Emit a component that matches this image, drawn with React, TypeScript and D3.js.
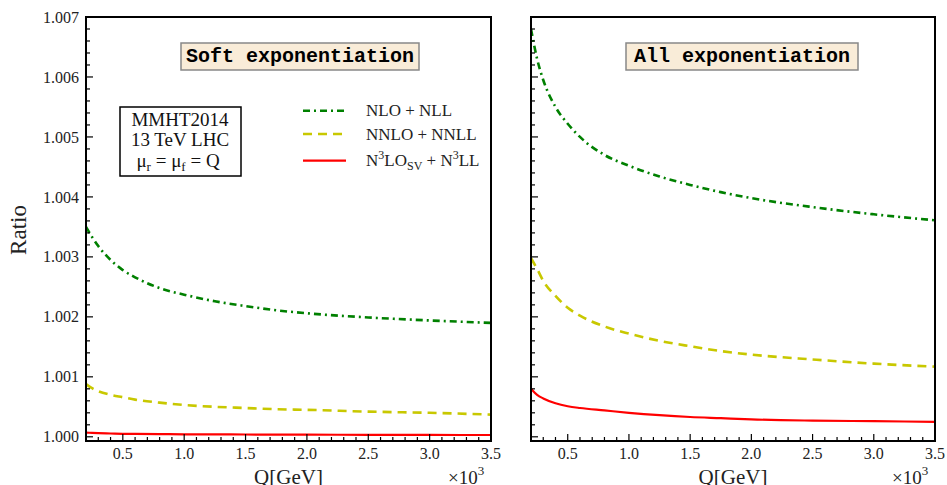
import React from "react";
import * as d3 from "d3";

const Q = [200, 250, 300, 400, 500, 600, 800, 1000, 1250, 1500, 1750, 2000, 2500, 3000, 3500];

const softNLO = [1.0035, 1.00333, 1.00318, 1.00295, 1.00278, 1.00266, 1.00248, 1.00237, 1.00226, 1.00218, 1.00211, 1.00206, 1.00199, 1.00194, 1.0019];
const softNNLO = [1.00088, 1.00081, 1.00076, 1.0007, 1.00066, 1.00062, 1.00057, 1.00053, 1.0005, 1.00048, 1.00046, 1.00045, 1.00042, 1.0004, 1.00037];
const softN3LO = [1.00007, 1.000065, 1.00006, 1.000055, 1.00005, 1.000048, 1.000045, 1.000042, 1.00004, 1.000038, 1.000036, 1.000035, 1.000033, 1.000031, 1.00003];

const allNLO = [1.0068, 1.0063, 1.00595, 1.0055, 1.00522, 1.005, 1.0047, 1.00452, 1.00434, 1.0042, 1.00408, 1.00398, 1.00383, 1.00371, 1.00361];
const allNNLO = [1.00298, 1.0028, 1.0026, 1.00235, 1.00215, 1.00202, 1.00184, 1.00172, 1.0016, 1.00151, 1.00143, 1.00137, 1.00129, 1.00122, 1.00117];
const allN3LO = [1.0008, 1.0007, 1.00064, 1.00056, 1.00051, 1.00048, 1.00044, 1.0004, 1.00036, 1.00033, 1.00031, 1.00029, 1.00027, 1.00026, 1.00025];

const yTickLabels = ["1.000", "1.001", "1.002", "1.003", "1.004", "1.005", "1.006", "1.007"];
const xTickLabels = ["0.5", "1.0", "1.5", "2.0", "2.5", "3.0", "3.5"];

const panelTitles = ["Soft exponentiation", "All exponentiation"];

const GREEN = "#008000";
const YELLOW = "#c8c800";
const RED = "#ff0000";
const SERIF = "'Liberation Serif', 'Times New Roman', serif";
const MONO = "'Liberation Mono', 'Courier New', monospace";

const seriesStyles = [
  { color: GREEN, dash: "7,4,2,4", width: 2.6 },
  { color: YELLOW, dash: "9,6", width: 2.6 },
  { color: RED, dash: "", width: 2.2 },
];

const TOP = 17;
const BOTTOM = 441;

function Panel({ x0, x1, title, titleBox, series, showYLabels }: any) {
  const xs = d3.scaleLinear().domain([200, 3500]).range([x0, x1]);
  const ys = d3.scaleLinear().domain([0.99993, 1.007]).range([BOTTOM, TOP]);
  const line = d3
    .line<number>()
    .x((_, i) => xs(Q[i]))
    .y((d) => ys(d))
    .curve(d3.curveMonotoneX);

  const yMinor = d3.range(0, 36).map((i) => 1.0 + i * 0.0002).filter((v) => v <= 1.00701);
  const xMinor = d3.range(2, 36).map((i) => i * 100);

  return (
    <g>
      <defs>
        <clipPath id={`clip${x0}`}>
          <rect x={x0} y={TOP} width={x1 - x0} height={BOTTOM - TOP} />
        </clipPath>
      </defs>
      <g clipPath={`url(#clip${x0})`}>
        {series.map((s: number[], i: number) => (
          <path
            key={i}
            d={line(s) as string}
            fill="none"
            stroke={seriesStyles[i].color}
            strokeWidth={seriesStyles[i].width}
            strokeDasharray={seriesStyles[i].dash}
          />
        ))}
      </g>
      {yMinor.map((v, i) => {
        const major = i % 5 === 0;
        return (
          <line key={"y" + i} x1={x0} x2={x0 + (major ? 7 : 4)} y1={ys(v)} y2={ys(v)} stroke="#000" strokeWidth={1.2} />
        );
      })}
      {xMinor.map((v, i) => {
        const major = v % 500 === 0;
        return (
          <line key={"x" + i} x1={xs(v)} x2={xs(v)} y1={BOTTOM} y2={BOTTOM - (major ? 7 : 4)} stroke="#000" strokeWidth={1.2} />
        );
      })}
      {showYLabels &&
        yTickLabels.map((t, i) => (
          <text key={t} x={x0 - 7} y={ys(1 + i * 0.001)} dy="0.35em" textAnchor="end" fontFamily={SERIF} fontSize={16} fill="#222">
            {t}
          </text>
        ))}
      {xTickLabels.map((t) => (
        <text key={t} x={xs(+t * 1000)} y={459} textAnchor="middle" fontFamily={SERIF} fontSize={16} fill="#222">
          {t}
        </text>
      ))}
      <rect x={x0} y={TOP} width={x1 - x0} height={BOTTOM - TOP} fill="none" stroke="#000" strokeWidth={2} />
      <rect x={titleBox[0]} y={43} width={titleBox[1] - titleBox[0]} height={27} fill="#f9ecd8" stroke="#888" strokeWidth={1.5} />
      <text x={(titleBox[0] + titleBox[1]) / 2} y={62} textAnchor="middle" fontFamily={MONO} fontWeight="bold" fontSize={20} fill="#000">
        {title}
      </text>
      <text x={(x0 + x1) / 2} y={484} textAnchor="middle" fontFamily={SERIF} fontSize={21} fill="#222">
        Q[GeV]
      </text>
      <text x={x1 - 43} y={484} fontFamily={SERIF} fontSize={19} fill="#222">
        ×10
        <tspan dy={-9} fontSize={13}>3</tspan>
      </text>
    </g>
  );
}

export default function App() {
  return (
    <svg width={947} height={485} style={{ position: "absolute", left: 0, top: 0, background: "#fff" }}>
      <rect x={0} y={0} width={947} height={485} fill="#fff" />
      <text transform="translate(26,230) rotate(-90)" textAnchor="middle" fontFamily={SERIF} fontSize={23} fill="#222">
        Ratio
      </text>
      <Panel x0={86} x1={491} title={panelTitles[0]} titleBox={[181, 419]} series={[softNLO, softNNLO, softN3LO]} showYLabels />
      <Panel x0={531} x1={935} title={panelTitles[1]} titleBox={[626, 858]} series={[allNLO, allNNLO, allN3LO]} showYLabels={false} />
      <rect x={120} y={107} width={121} height={69} fill="#fff" stroke="#000" strokeWidth={1.5} />
      <g fontFamily={SERIF} fontSize={19} fill="#111" textAnchor="middle">
        <text x={180} y={126}>MMHT2014</text>
        <text x={180} y={146}>13 TeV LHC</text>
        <text x={178} y={167}>
          μ<tspan fontSize={13} dy={4}>r</tspan>
          <tspan dy={-4}> = μ</tspan>
          <tspan fontSize={13} dy={4}>f</tspan>
          <tspan dy={-4}> = Q</tspan>
        </text>
      </g>
      {[110.7, 134, 160.7].map((y, i) => (
        <line key={i} x1={303} x2={346} y1={y} y2={y} stroke={seriesStyles[i].color} strokeWidth={seriesStyles[i].width} strokeDasharray={seriesStyles[i].dash} />
      ))}
      <g fontFamily={SERIF} fontSize={17} fill="#222">
        <text x={366} y={116}>NLO + NLL</text>
        <text x={366} y={140}>NNLO + NNLL</text>
        <text x={366} y={166}>
          N<tspan fontSize={12} dy={-7}>3</tspan>
          <tspan dy={7}>LO</tspan>
          <tspan fontSize={12} dy={4}>SV</tspan>
          <tspan dy={-4}> + N</tspan>
          <tspan fontSize={12} dy={-7}>3</tspan>
          <tspan dy={7}>LL</tspan>
        </text>
      </g>
    </svg>
  );
}
